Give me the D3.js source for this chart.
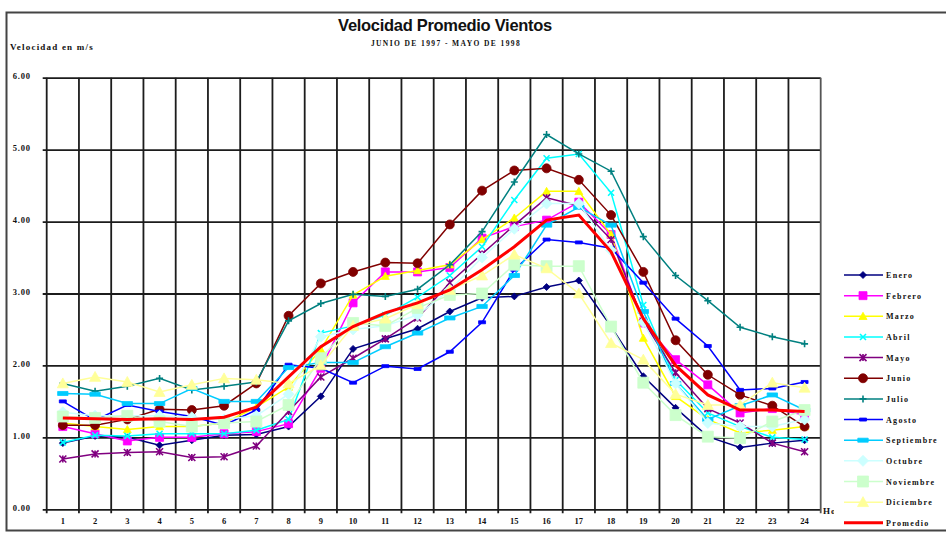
<!DOCTYPE html>
<html>
<head>
<meta charset="utf-8">
<script src="https://cdn.jsdelivr.net/npm/d3@7"></script>
<style>
body { margin: 0; background: #fff; }
text { font-family: "Liberation Serif", "DejaVu Serif", serif; font-weight: bold; fill: #111; }
</style>
</head>
<body>
<svg id="chart" width="946" height="533"></svg>
<script>
// horas del dia
var horas = [1,2,3,4,5,6,7,8,9,10,11,12,13,14,15,16,17,18,19,20,21,22,23,24];
var yTicks = [0,1,2,3,4,5,6];

var meses = ["Enero","Febrero","Marzo","Abril","Mayo","Junio","Julio","Agosto",
	"Septiembre","Octubre","Noviembre","Diciembre","Promedio"];

var enero     = [0.92,1.02,1.00,0.89,0.96,1.03,1.04,1.15,1.57,2.23,2.37,2.51,2.75,2.94,2.96,3.09,3.18,2.54,1.85,1.41,1.01,0.86,0.92,0.96];
var febrero   = [1.15,1.05,0.95,1.00,1.00,1.05,1.08,1.19,1.96,2.87,3.30,3.30,3.36,3.77,3.93,4.02,4.27,3.82,2.59,2.08,1.73,1.34,1.40,1.31];
var marzo     = [1.20,1.15,1.11,1.15,1.15,1.20,1.42,1.70,2.22,2.98,3.24,3.32,3.40,3.75,4.05,4.42,4.42,3.82,2.38,1.57,1.25,1.06,1.10,1.15];
var abril     = [0.93,1.03,1.02,1.05,1.05,1.05,1.10,1.25,2.45,2.55,2.70,2.95,3.25,3.65,4.30,4.88,4.94,4.40,2.84,1.80,1.34,1.15,1.00,0.97];
var mayo      = [0.70,0.77,0.79,0.80,0.72,0.73,0.88,1.36,1.84,2.10,2.37,2.66,3.15,3.55,3.95,4.33,4.22,3.75,2.62,1.90,1.40,1.20,0.92,0.80];
var junio     = [1.17,1.17,1.25,1.39,1.38,1.44,1.75,2.69,3.14,3.30,3.43,3.42,3.96,4.43,4.71,4.74,4.58,4.09,3.30,2.35,1.87,1.59,1.44,1.15];
var julio     = [1.75,1.64,1.71,1.82,1.66,1.71,1.77,2.62,2.86,2.99,2.96,3.06,3.40,3.86,4.55,5.21,4.94,4.70,3.79,3.25,2.90,2.53,2.40,2.30];
var agosto    = [1.50,1.24,1.45,1.36,1.29,1.17,1.38,2.01,1.96,1.76,1.99,1.95,2.19,2.60,3.33,3.75,3.71,3.63,3.15,2.65,2.27,1.66,1.68,1.77];
var septiembre= [1.61,1.60,1.47,1.47,1.68,1.50,1.50,1.97,2.04,2.04,2.26,2.45,2.66,2.82,3.25,3.95,4.20,3.95,2.75,1.75,1.25,1.44,1.59,1.38];
var octubre   = [1.35,1.30,1.30,1.30,1.28,1.25,1.30,1.60,2.40,2.50,2.55,2.70,3.05,3.50,3.90,4.25,4.25,3.60,2.60,1.75,1.20,1.15,1.15,1.25];
var noviembre = [1.29,1.27,1.30,1.22,1.15,1.20,1.22,1.45,2.10,2.59,2.55,2.80,2.98,3.00,3.40,3.38,3.38,2.54,1.76,1.31,1.01,0.99,1.22,1.38];
var diciembre = [1.75,1.84,1.77,1.63,1.73,1.82,1.80,1.75,2.00,2.55,2.65,2.85,3.05,3.25,3.54,3.35,3.00,2.31,2.08,1.60,1.45,1.45,1.76,1.69];
var promedio  = [1.27,1.26,1.25,1.26,1.25,1.28,1.42,1.84,2.26,2.54,2.73,2.87,3.05,3.33,3.65,4.02,4.09,3.58,2.65,2.00,1.59,1.38,1.38,1.36];

var series = [enero,febrero,marzo,abril,mayo,junio,julio,agosto,septiembre,octubre,noviembre,diciembre,promedio];

var colores = ["#000080","#ff00ff","#ffff00","#00ffff","#800080","#800000","#008080","#0000ff",
	"#00ccff","#ccffff","#ccffcc","#ffff99","#ff0000"];
var marcas = ["diamond","square","triangle","x","star","circle","plus","dash",
	"bar","diamond","square","triangle","none"];
var tamanos = [3.5,4,4,3,3.5,4.5,3.5,3.5,4,5.5,5.5,5.5,0];

var svg = d3.select("#chart");

var x = d3.scaleBand()
	.domain(horas)
	.range([46.7, 820.7]);

var y = d3.scaleLinear()
	.domain([0, 6])
	.range([509.3, 77.7]);

// marco exterior
svg.append("rect")
	.attr("x", 6.5).attr("y", 12.5)
	.attr("width", 960).attr("height", 518)
	.attr("fill", "none")
	.attr("stroke", "#444")
	.attr("stroke-width", 2);

// rejilla horizontal + etiquetas
var yAxis = d3.axisLeft(y)
	.tickValues(yTicks)
	.tickSize(-(x.range()[1] - x.range()[0]) - 4)
	.tickFormat(d3.format(".2f"));

var gy = svg.append("g")
	.attr("transform", "translate(" + (x.range()[0] - 4) + ",0)")
	.call(yAxis);
gy.select(".domain").remove();
gy.selectAll(".tick line")
	.attr("transform", "translate(0,0)")
	.attr("stroke", "#1c1c1c")
	.attr("stroke-width", 1.8);
gy.selectAll(".tick text")
	.attr("x", -30)
	.attr("dy", "0.1em")
	.attr("text-anchor", "start")
	.style("font-size", "8.5px")
	.style("letter-spacing", "0.8px");

// rejilla vertical
var bordes = [x.range()[0]].concat(horas.map(function(h){ return x(h) + x.bandwidth(); }));
svg.append("g").selectAll("line")
	.data(bordes)
	.enter().append("line")
	.attr("x1", function(d){ return d; })
	.attr("x2", function(d){ return d; })
	.attr("y1", y(6))
	.attr("y2", y(0) + 4)
	.attr("stroke", function(d, i){ return i == bordes.length-1 ? "#555" : "#1c1c1c"; })
	.attr("stroke-width", 1.8);

// etiquetas eje x
svg.append("g").selectAll("text")
	.data(horas)
	.enter().append("text")
	.attr("x", function(d){ return x(d) + x.bandwidth()/2; })
	.attr("y", 524)
	.attr("text-anchor", "middle")
	.style("font-size", "8.5px")
	.text(function(d){ return d; });

svg.append("text")
	.attr("x", 823).attr("y", 514)
	.style("font-size", "9px")
	.style("letter-spacing", "1px")
	.text("Hora");

// titulos
svg.append("text")
	.attr("x", 445).attr("y", 31)
	.attr("text-anchor", "middle")
	.style("font-family", "'Liberation Sans', Arial, sans-serif")
	.style("font-size", "16.5px")
	.style("letter-spacing", "-0.3px")
	.text("Velocidad Promedio Vientos");

svg.append("text")
	.attr("x", 446).attr("y", 46)
	.attr("text-anchor", "middle")
	.style("font-size", "7.5px")
	.style("letter-spacing", "1.4px")
	.text("JUNIO DE 1997 - MAYO DE 1998");

svg.append("text")
	.attr("x", 10).attr("y", 50)
	.style("font-size", "9px")
	.style("letter-spacing", "1.2px")
	.text("Velocidad en m/s");

// forma de las marcas
function marca(tipo, s) {
	switch (tipo) {
	case "diamond": return "M0," + (-s) + "L" + s + ",0L0," + s + "L" + (-s) + ",0Z";
	case "square": return "M" + (-s) + "," + (-s) + "h" + (2*s) + "v" + (2*s) + "h" + (-2*s) + "Z";
	case "triangle": return "M0," + (-s) + "L" + s + "," + (s*0.8) + "L" + (-s) + "," + (s*0.8) + "Z";
	case "circle": return d3.symbol(d3.symbolCircle, Math.PI*s*s)();
	case "dash": return "M" + (-s) + ",-1.5h" + (2*s) + "v3h" + (-2*s) + "Z";
	case "bar": return "M" + (-s*1.3) + ",-2h" + (2.6*s) + "v4h" + (-2.6*s) + "Z";
	}
	return null;
}
function marcaLineas(tipo, s) {
	if (tipo == "x") return "M" + (-s) + "," + (-s) + "L" + s + "," + s + "M" + (-s) + "," + s + "L" + s + "," + (-s);
	if (tipo == "star") return "M" + (-s) + "," + (-s) + "L" + s + "," + s + "M" + (-s) + "," + s + "L" + s + "," + (-s) + "M0," + (-s) + "L0," + s;
	if (tipo == "plus") return "M" + (-s) + ",0L" + s + ",0M0," + (-s) + "L0," + s;
	return null;
}

function dibujaMarca(g, tipo, s, color) {
	var p = marca(tipo, s);
	if (p) {
		g.append("path").attr("d", p).attr("fill", color).attr("stroke", color).attr("stroke-width", 0.8);
	} else if (marcaLineas(tipo, s)) {
		g.append("path").attr("d", marcaLineas(tipo, s)).attr("fill", "none").attr("stroke", color).attr("stroke-width", 1.6);
	}
}

var line = d3.line()
	.x(function(d, i){ return x(horas[i]) + x.bandwidth()/2; })
	.y(function(d){ return y(d); });

series.forEach(function(datos, k) {
	var g = svg.append("g").attr("class", "serie");
	g.append("path")
		.attr("d", line(datos))
		.attr("fill", "none")
		.attr("stroke", colores[k])
		.attr("stroke-width", k == 12 ? 3 : 1.5);
	if (marcas[k] != "none") {
		datos.forEach(function(v, i) {
			var m = g.append("g")
				.attr("transform", "translate(" + (x(horas[i]) + x.bandwidth()/2) + "," + y(v) + ")");
			dibujaMarca(m, marcas[k], tamanos[k], colores[k]);
		});
	}
});

// leyenda
var leyenda = svg.append("g");
leyenda.append("rect")
	.attr("x", 834).attr("y", 262)
	.attr("width", 112).attr("height", 267)
	.attr("fill", "#fff");

meses.forEach(function(nombre, k) {
	var ly = 275 + k * 20.65;
	var g = leyenda.append("g");
	g.append("line")
		.attr("x1", 844).attr("x2", 883)
		.attr("y1", ly).attr("y2", ly)
		.attr("stroke", colores[k])
		.attr("stroke-width", k == 12 ? 3 : 1.5);
	if (marcas[k] != "none") {
		var m = g.append("g").attr("transform", "translate(863," + ly + ")");
		dibujaMarca(m, marcas[k], tamanos[k], colores[k]);
	}
	g.append("text")
		.attr("x", 886).attr("y", ly + 3)
		.style("font-size", "8px")
		.style("letter-spacing", "1.3px")
		.text(nombre);
});
</script>
</body>
</html>
